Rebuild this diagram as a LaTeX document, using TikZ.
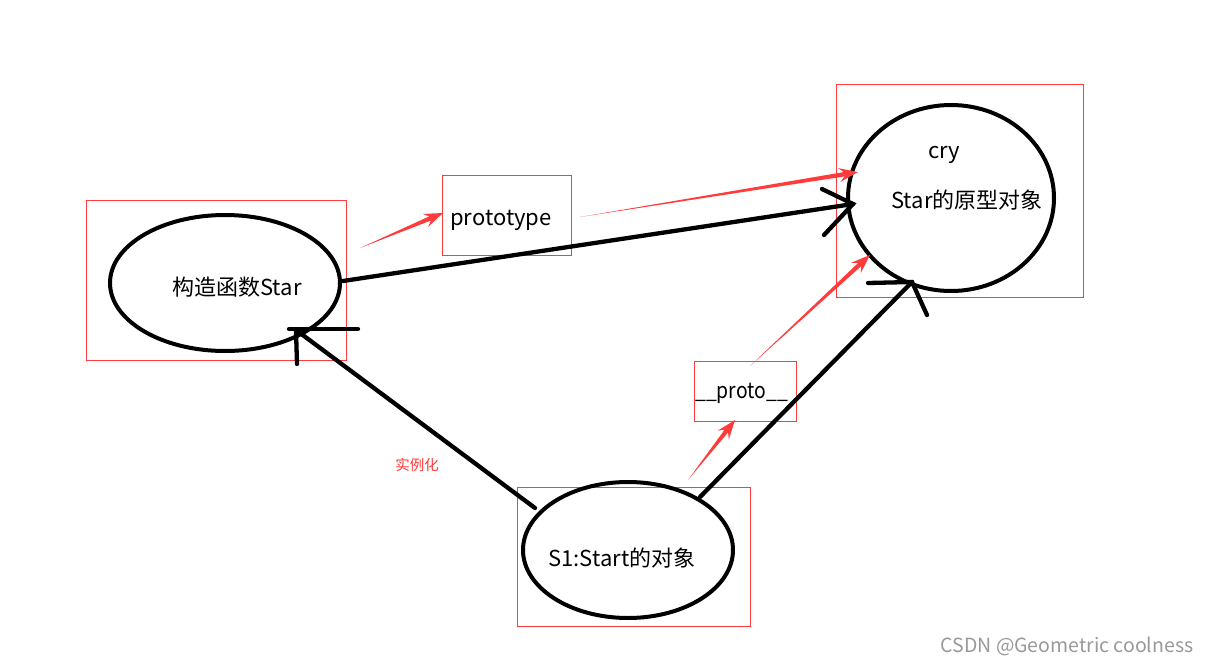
\documentclass[tikz,border=0pt]{standalone}
\usepackage{fontspec}
\usepackage{graphicx}
\setmainfont{Noto Sans CJK SC}
\usetikzlibrary{shapes.geometric,arrows.meta,calc}
\definecolor{redbox}{HTML}{FF3B3B}
\newcommand\myredarrow[2]{%
  \coordinate (rB) at ($(#2)!14pt!(#1)$);
  \coordinate (rW) at ($(#2)!19pt!(#1)$);
  \fill[redbox] (#1) -- ($(rB)!2.2pt!90:(#2)$) -- ($(rW)!7pt!90:(#2)$) -- (#2)
    -- ($(rW)!7pt!-90:(#2)$) -- ($(rB)!2.2pt!-90:(#2)$) -- cycle;
}
\begin{document}
\begin{tikzpicture}[x=1pt,y=-1pt,
 box/.style={draw=redbox,line width=1pt,inner sep=0,minimum width=#1},
 oval/.style={draw,ellipse,line width=4pt,inner sep=0},
 lbl/.style={font=\fontsize{22}{26}\selectfont,inner sep=0},
 blk/.style={line width=4.3pt,line cap=round}]
\useasboundingbox[fill=white] (0,0) rectangle (1208,664);

% red boxes
\node[box=260pt,minimum height=160pt] (r1) at (216,280) {};
\node[box=129pt,minimum height=80pt] (r2) at (506.5,215) {};
\node[box=247pt,minimum height=213pt] (r3) at (959.5,190.5) {};
\node[box=102pt,minimum height=60pt] (r4) at (745,391) {};
\node[box=233pt,minimum height=139pt] (r5) at (633.5,556.5) {};

% ellipses
\node[oval,minimum width=230pt,minimum height=136pt] (e1) at (225,283) {};
\node[oval,minimum width=206pt,minimum height=186pt] (e3) at (951,198) {};
\node[oval,minimum width=210pt,minimum height=136pt] (e5) at (628,550) {};

% labels
\node[lbl] (t1) at (237,287) {构造函数Star};
\node[lbl] (t2) at (501,220) {prototype};
\node[lbl] (t3) at (944,155) {cry};
\node[lbl] (t4) at (967,200) {Star的原型对象};
\node[lbl,anchor=west] (t5) at (695,393) {\scalebox{0.88}[1]{\_\_proto\_\_}};
\node[lbl] (t6) at (622,558) {S1:Start的对象};
\node[inner sep=0,text=redbox,font=\fontsize{14.5}{16}\selectfont] (t7) at (417,465) {实例化};
\node[inner sep=0,text=black!40,font=\fontsize{19.5}{22}\selectfont] (wm) at (1067,646) {CSDN @Geometric coolness};

% coordinates for connectors
\coordinate (a1s) at (343,281);
\coordinate (a1t) at (853,204);
\coordinate (a1b1) at (822,189);
\coordinate (a1b2) at (824,235);

\coordinate (a2s) at (535,508);
\coordinate (a2t) at (296,330);
\coordinate (a2h1) at (289,329);
\coordinate (a2h2) at (358,329);
\coordinate (a2v) at (297,364);

\coordinate (a3s) at (700,497);
\coordinate (a3t) at (912,282);
\coordinate (a3h) at (868,283);
\coordinate (a3v) at (927,315);

% black connectors
\draw[blk] (a1s) -- (a1t);
\draw[blk] (a1b1) -- (a1t) -- (a1b2);
\draw[blk] (a2s) -- (a2t);
\draw[blk] (a2h1) -- (a2h2);
\draw[blk] (a2t) -- (a2v);
\draw[blk] (a3s) -- (a3t);
\draw[blk] (a3h) -- (a3t) -- (a3v);

% red arrows
\coordinate (ra1s) at (360,248);
\coordinate (ra1t) at (443,213);
\coordinate (ra2s) at (580,217);
\coordinate (ra2t) at (858,172);
\coordinate (ra3s) at (750,366);
\coordinate (ra3t) at (870,255);
\coordinate (ra4s) at (688,480);
\coordinate (ra4t) at (735,420);
\myredarrow{ra1s}{ra1t}
\myredarrow{ra2s}{ra2t}
\myredarrow{ra3s}{ra3t}
\myredarrow{ra4s}{ra4t}
\end{tikzpicture}
\end{document}
